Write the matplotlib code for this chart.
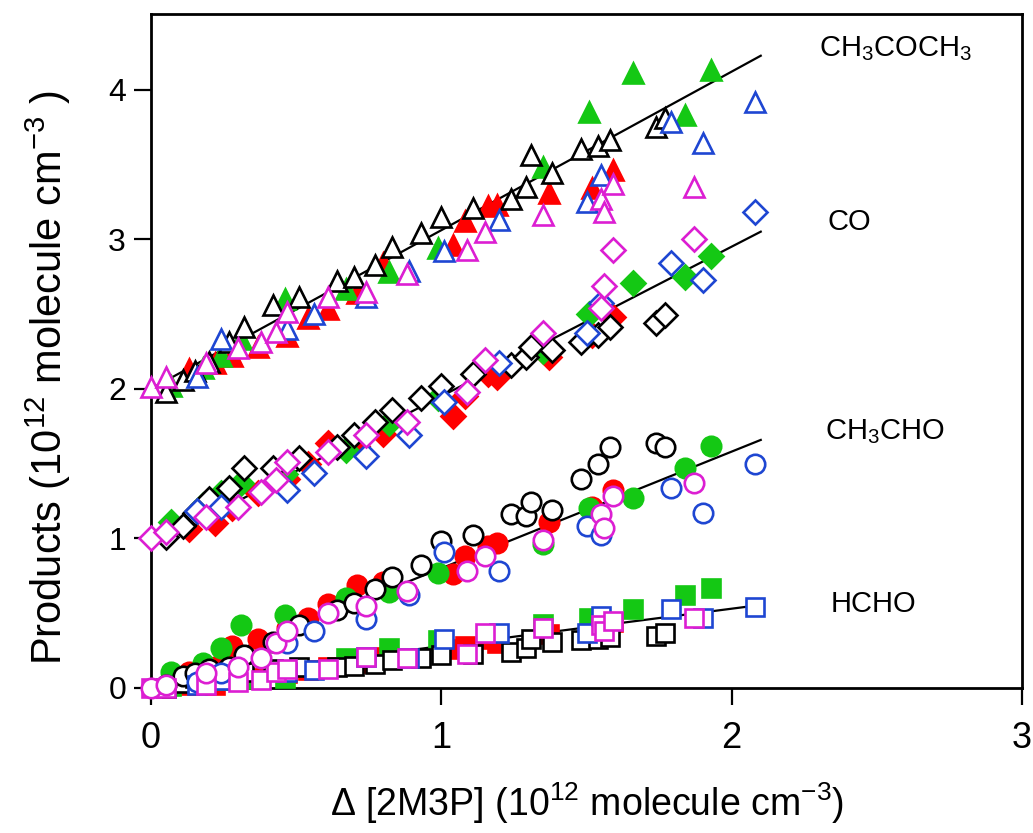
import matplotlib
matplotlib.use("Agg")
import matplotlib.pyplot as plt
import numpy as np

plt.rcParams["font.family"] = ["Liberation Sans", "DejaVu Sans"]
plt.rcParams["mathtext.fontset"] = "custom"
plt.rcParams["mathtext.rm"] = "Liberation Sans"
plt.rcParams["mathtext.it"] = "Liberation Sans:italic"
plt.rcParams["mathtext.bf"] = "Liberation Sans:bold"

# consumed 2M3P (1e12 molecule cm-3) and products for each run
black_x = [0.05, 0.11, 0.15, 0.20, 0.27, 0.32, 0.42, 0.51, 0.64, 0.70, 0.77, 0.83,
           0.93, 1.00, 1.11, 1.24, 1.29, 1.31, 1.38, 1.48, 1.54, 1.58, 1.74, 1.77]
black_hcho = [0.00, 0.03, 0.07, 0.07, 0.11, 0.11, 0.13, 0.14, 0.14, 0.15, 0.16, 0.19,
              0.20, 0.22, 0.23, 0.24, 0.27, 0.33, 0.31, 0.32, 0.33, 0.34, 0.35, 0.37]
black_ch3cho = [0.02, 0.08, 0.10, 0.13, 0.14, 0.22, 0.31, 0.42, 0.52, 0.57, 0.66, 0.74,
                0.82, 0.98, 1.02, 1.16, 1.15, 1.24, 1.19, 1.40, 1.50, 1.61, 1.64, 1.61]
black_co = [0.01, 0.08, 0.17, 0.26, 0.34, 0.47, 0.47, 0.54, 0.61, 0.69, 0.78, 0.86,
            0.94, 1.02, 1.10, 1.16, 1.21, 1.28, 1.26, 1.31, 1.36, 1.41, 1.44, 1.49]
black_acetone = [-0.02, 0.06, 0.12, 0.18, 0.31, 0.41, 0.56, 0.61, 0.72, 0.75, 0.83, 0.95,
                 1.04, 1.15, 1.21, 1.27, 1.35, 1.56, 1.44, 1.60, 1.62, 1.66, 1.75, 1.81]

red_x = [0.13, 0.22, 0.28, 0.37, 0.47, 0.54, 0.61, 0.71, 0.80, 1.04, 1.08, 1.16,
         1.19, 1.37, 1.52, 1.59]
red_hcho = [0.02, 0.02, 0.05, 0.07, 0.10, 0.12, 0.14, 0.17, 0.21, 0.26, 0.28, 0.33,
            0.30, 0.36, 0.42, 0.44]
red_ch3cho = [0.11, 0.14, 0.28, 0.33, 0.40, 0.47, 0.56, 0.69, 0.71, 0.76, 0.88, 0.95,
              0.97, 1.11, 1.21, 1.32]
red_co = [0.06, 0.10, 0.20, 0.30, 0.40, 0.50, 0.64, 0.62, 0.70, 0.82, 0.95, 1.10,
          1.08, 1.21, 1.36, 1.48]
red_acetone = [0.13, 0.17, 0.22, 0.28, 0.35, 0.47, 0.53, 0.64, 0.84, 0.96, 1.12, 1.22,
               1.23, 1.31, 1.34, 1.46]

green_x = [0.07, 0.18, 0.24, 0.31, 0.46, 0.67, 0.82, 0.99, 1.35, 1.51, 1.66, 1.84, 1.93]
green_hcho = [0.01, 0.03, 0.05, 0.06, 0.07, 0.20, 0.27, 0.32, 0.43, 0.47, 0.53, 0.62, 0.67]
green_ch3cho = [0.11, 0.17, 0.27, 0.42, 0.49, 0.60, 0.64, 0.77, 0.96, 1.20, 1.27, 1.47, 1.62]
green_co = [0.11, 0.22, 0.30, 0.37, 0.43, 0.59, 0.77, 0.94, 1.25, 1.50, 1.71, 1.75, 1.89]
green_acetone = [0.02, 0.14, 0.22, 0.33, 0.60, 0.67, 0.78, 0.94, 1.48, 1.85, 2.11, 1.83, 2.13]

blue_x = [0.16, 0.24, 0.47, 0.56, 0.74, 0.89, 1.01, 1.20, 1.50, 1.55, 1.79, 1.90, 2.08]
blue_hcho = [0.02, 0.05, 0.11, 0.12, 0.21, 0.20, 0.33, 0.37, 0.37, 0.48, 0.53, 0.47, 0.54]
blue_ch3cho = [0.04, 0.10, 0.30, 0.38, 0.46, 0.62, 0.91, 0.78, 1.08, 1.02, 1.34, 1.17, 1.50]
blue_co = [0.18, 0.21, 0.32, 0.44, 0.55, 0.69, 0.91, 1.17, 1.37, 1.57, 1.84, 1.73, 2.18]
blue_acetone = [0.08, 0.33, 0.40, 0.50, 0.61, 0.79, 0.92, 1.13, 1.25, 1.43, 1.78, 1.64, 1.92]

magenta_x = [0.00, 0.05, 0.19, 0.30, 0.38, 0.43, 0.47, 0.61, 0.74, 0.88, 1.09, 1.15,
             1.35, 1.55, 1.56, 1.59, 1.87]
magenta_hcho = [0.00, 0.00, 0.02, 0.04, 0.05, 0.11, 0.13, 0.13, 0.21, 0.20, 0.23, 0.37,
                0.40, 0.42, 0.38, 0.45, 0.47]
magenta_ch3cho = [0.00, 0.02, 0.10, 0.14, 0.20, 0.30, 0.38, 0.50, 0.55, 0.65, 0.78, 0.88,
                  0.99, 1.16, 1.07, 1.28, 1.37]
magenta_co = [0.00, 0.04, 0.14, 0.21, 0.31, 0.39, 0.51, 0.58, 0.69, 0.78, 0.98, 1.19,
              1.37, 1.54, 1.69, 1.93, 2.00]
magenta_acetone = [0.01, 0.08, 0.17, 0.27, 0.31, 0.38, 0.51, 0.61, 0.65, 0.77, 0.93, 1.05,
                   1.16, 1.27, 1.18, 1.37, 1.35]

species = ["HCHO", "CH3CHO", "CO", "acetone"]
labels = ["HCHO", "CH$_3$CHO", "CO", "CH$_3$COCH$_3$"]
offsets = [0, 0, 1, 2]
fit_slope = [0.25, 0.78, 1.00, 1.06]
fit_icpt = [0.03, 0.02, -0.05, 0.00]

markers = {"HCHO": "s", "CH3CHO": "o", "CO": "D", "acetone": "^"}
msize = {"HCHO": 13.5, "CH3CHO": 14, "CO": 12, "acetone": 14.5}

# (colour, filled, x, [hcho, ch3cho, co, acetone]) in drawing order
runs = [
    ("#ff0000", True, red_x, [red_hcho, red_ch3cho, red_co, red_acetone]),
    ("#14c814", True, green_x, [green_hcho, green_ch3cho, green_co, green_acetone]),
    ("#000000", False, black_x, [black_hcho, black_ch3cho, black_co, black_acetone]),
    ("#1e46d2", False, blue_x, [blue_hcho, blue_ch3cho, blue_co, blue_acetone]),
    ("#dc1ed2", False, magenta_x, [magenta_hcho, magenta_ch3cho, magenta_co, magenta_acetone]),
]

fig = plt.figure(figsize=(10.33, 8.33), dpi=100)
ax = fig.add_axes([0.1462, 0.1741, 0.8432, 0.8091])

# fitted lines, offset like the data
xf = np.array([0.0, 2.1])
for k, sp in enumerate(species):
    ax.plot(xf, fit_icpt[k] + fit_slope[k] * xf + offsets[k], color="k", lw=1.6, zorder=2)

z = 3
for colour, filled, x, ys in runs:
    for k, sp in enumerate(species):
        y = np.array(ys[k]) + offsets[k]
        ax.plot(x, y, ls="none", marker=markers[sp], ms=msize[sp],
                mfc=colour if filled else "white", mec=colour, mew=1.9,
                clip_on=False, zorder=z)
    z += 1

ax.text(2.30, 4.22, labels[3], fontsize=21, va="baseline")
ax.text(2.33, 3.06, labels[2], fontsize=21, va="baseline")
ax.text(2.32, 1.66, labels[1], fontsize=21, va="baseline")
ax.text(2.34, 0.51, labels[0], fontsize=21, va="baseline")

ax.set_xlim(0, 3)
ax.set_ylim(0, 4.505)
ax.set_xticks([0, 1, 2, 3])
ax.set_yticks([0, 1, 2, 3, 4])
ax.tick_params(axis="x", direction="out", length=12, width=1.6, labelsize=26, pad=12)
ax.tick_params(axis="y", direction="out", length=12, width=1.6, labelsize=23, pad=6)
for s in ax.spines.values():
    s.set_linewidth(2.0)

ax.set_xlabel("Δ [2M3P] (10$^{12}$ molecule cm$^{-3}$)", fontsize=27, labelpad=17)
ax.set_ylabel("Products (10$^{12}$ molecule cm$^{-3}$ )", fontsize=30)
ax.yaxis.set_label_coords(-0.09, 0.46)

fig.savefig("out.png", dpi=100)
